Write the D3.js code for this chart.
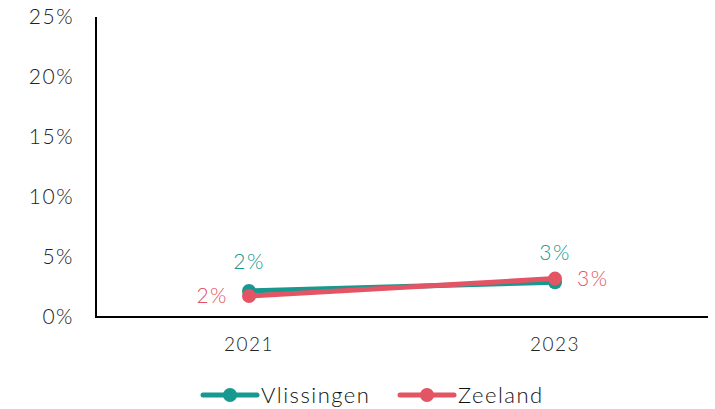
<!DOCTYPE html>
<html>
<head>
<meta charset="utf-8">
<script src="https://cdn.jsdelivr.net/npm/d3@7"></script>
<style>
  body { margin: 0; background: #fff; }
  svg text { font-family: 'Lato', 'DejaVu Sans', sans-serif; font-weight: 300; letter-spacing: 1.5px; }
</style>
</head>
<body>
<div id="chart"></div>
<script>
var years = ['2021', '2023'];
var vlissingen = [0.0217, 0.029];
var zeeland = [0.0175, 0.032];
var yTicks = [0, 0.05, 0.10, 0.15, 0.20, 0.25];
var seriesNames = ['Vlissingen', 'Zeeland'];
var COLORS = ['#17998f', '#e35464'];

var WIDTH = 715, HEIGHT = 409;
var MARGIN = { top: 17, right: 7, bottom: 92, left: 96 };

var svg = d3.select('#chart').append('svg').attr('width', WIDTH).attr('height', HEIGHT);
var x = d3.scaleBand().domain(years).range([MARGIN.left, WIDTH - MARGIN.right]);
var y = d3.scaleLinear().domain([0, 0.25]).range([HEIGHT - MARGIN.bottom, MARGIN.top]);
var fmt = d3.format('.0%');
var cx = function (i) { return x(years[i]) + x.bandwidth() / 2; };

// axes
svg.append('line').attr('x1', MARGIN.left).attr('x2', MARGIN.left)
   .attr('y1', y(0.25)).attr('y2', y(0)).attr('stroke', '#000').attr('stroke-width', 2);
svg.append('line').attr('x1', MARGIN.left - 1).attr('x2', WIDTH - MARGIN.right)
   .attr('y1', y(0)).attr('y2', y(0)).attr('stroke', '#000').attr('stroke-width', 2);

svg.selectAll('.ytick').data(yTicks).enter().append('text')
   .attr('x', 74).attr('y', function (d) { return y(d); }).attr('dy', '0.35em')
   .attr('text-anchor', 'end').style('font-size', '21px').attr('fill', '#222')
   .text(function (d) { return fmt(d); });

svg.selectAll('.xtick').data(years).enter().append('text')
   .attr('x', function (d, i) { return cx(i); }).attr('y', 351)
   .attr('text-anchor', 'middle').style('font-size', '19px').attr('fill', '#222')
   .text(function (d) { return d; });

var series = [vlissingen, zeeland];
var line = d3.line().x(function (d, i) { return cx(i); })
                    .y(function (d) { return y(d); });

series.forEach(function (vals, s) {
    svg.append('path').datum(vals).attr('d', line).attr('fill', 'none')
       .attr('stroke', COLORS[s]).attr('stroke-width', 5).attr('stroke-linecap', 'round');
    svg.selectAll('.pt' + s).data(vals).enter().append('circle')
       .attr('cx', function (d, i) { return cx(i); })
       .attr('cy', function (d) { return y(d); }).attr('r', 7).attr('fill', COLORS[s]);
});

// data labels: vlissingen above, zeeland left / right
svg.selectAll('.lv').data(vlissingen).enter().append('text')
   .attr('x', function (d, i) { return cx(i); })
   .attr('y', function (d) { return y(d) - 22; })
   .attr('text-anchor', 'middle').style('font-size', '21px').attr('fill', COLORS[0])
   .text(function (d) { return fmt(d); });
svg.selectAll('.lz').data(zeeland).enter().append('text')
   .attr('x', function (d, i) { return cx(i) + (i === 0 ? -21 : 22); })
   .attr('y', function (d) { return y(d); }).attr('dy', '0.35em')
   .attr('text-anchor', function (d, i) { return i === 0 ? 'end' : 'start'; })
   .style('font-size', '21px').attr('fill', COLORS[1])
   .text(function (d) { return fmt(d); });

// legend
var legendX = [203, 400];
seriesNames.forEach(function (name, s) {
    var g = svg.append('g').attr('transform', 'translate(' + legendX[s] + ',395)');
    g.append('line').attr('x1', 0).attr('x2', 54).attr('stroke', COLORS[s])
     .attr('stroke-width', 5).attr('stroke-linecap', 'round');
    g.append('circle').attr('cx', 27).attr('r', 7).attr('fill', COLORS[s]);
    g.append('text').attr('x', 58).attr('dy', '0.35em').style('font-size', '22px')
     .attr('fill', '#111').text(name);
});
</script>
</body>
</html>
